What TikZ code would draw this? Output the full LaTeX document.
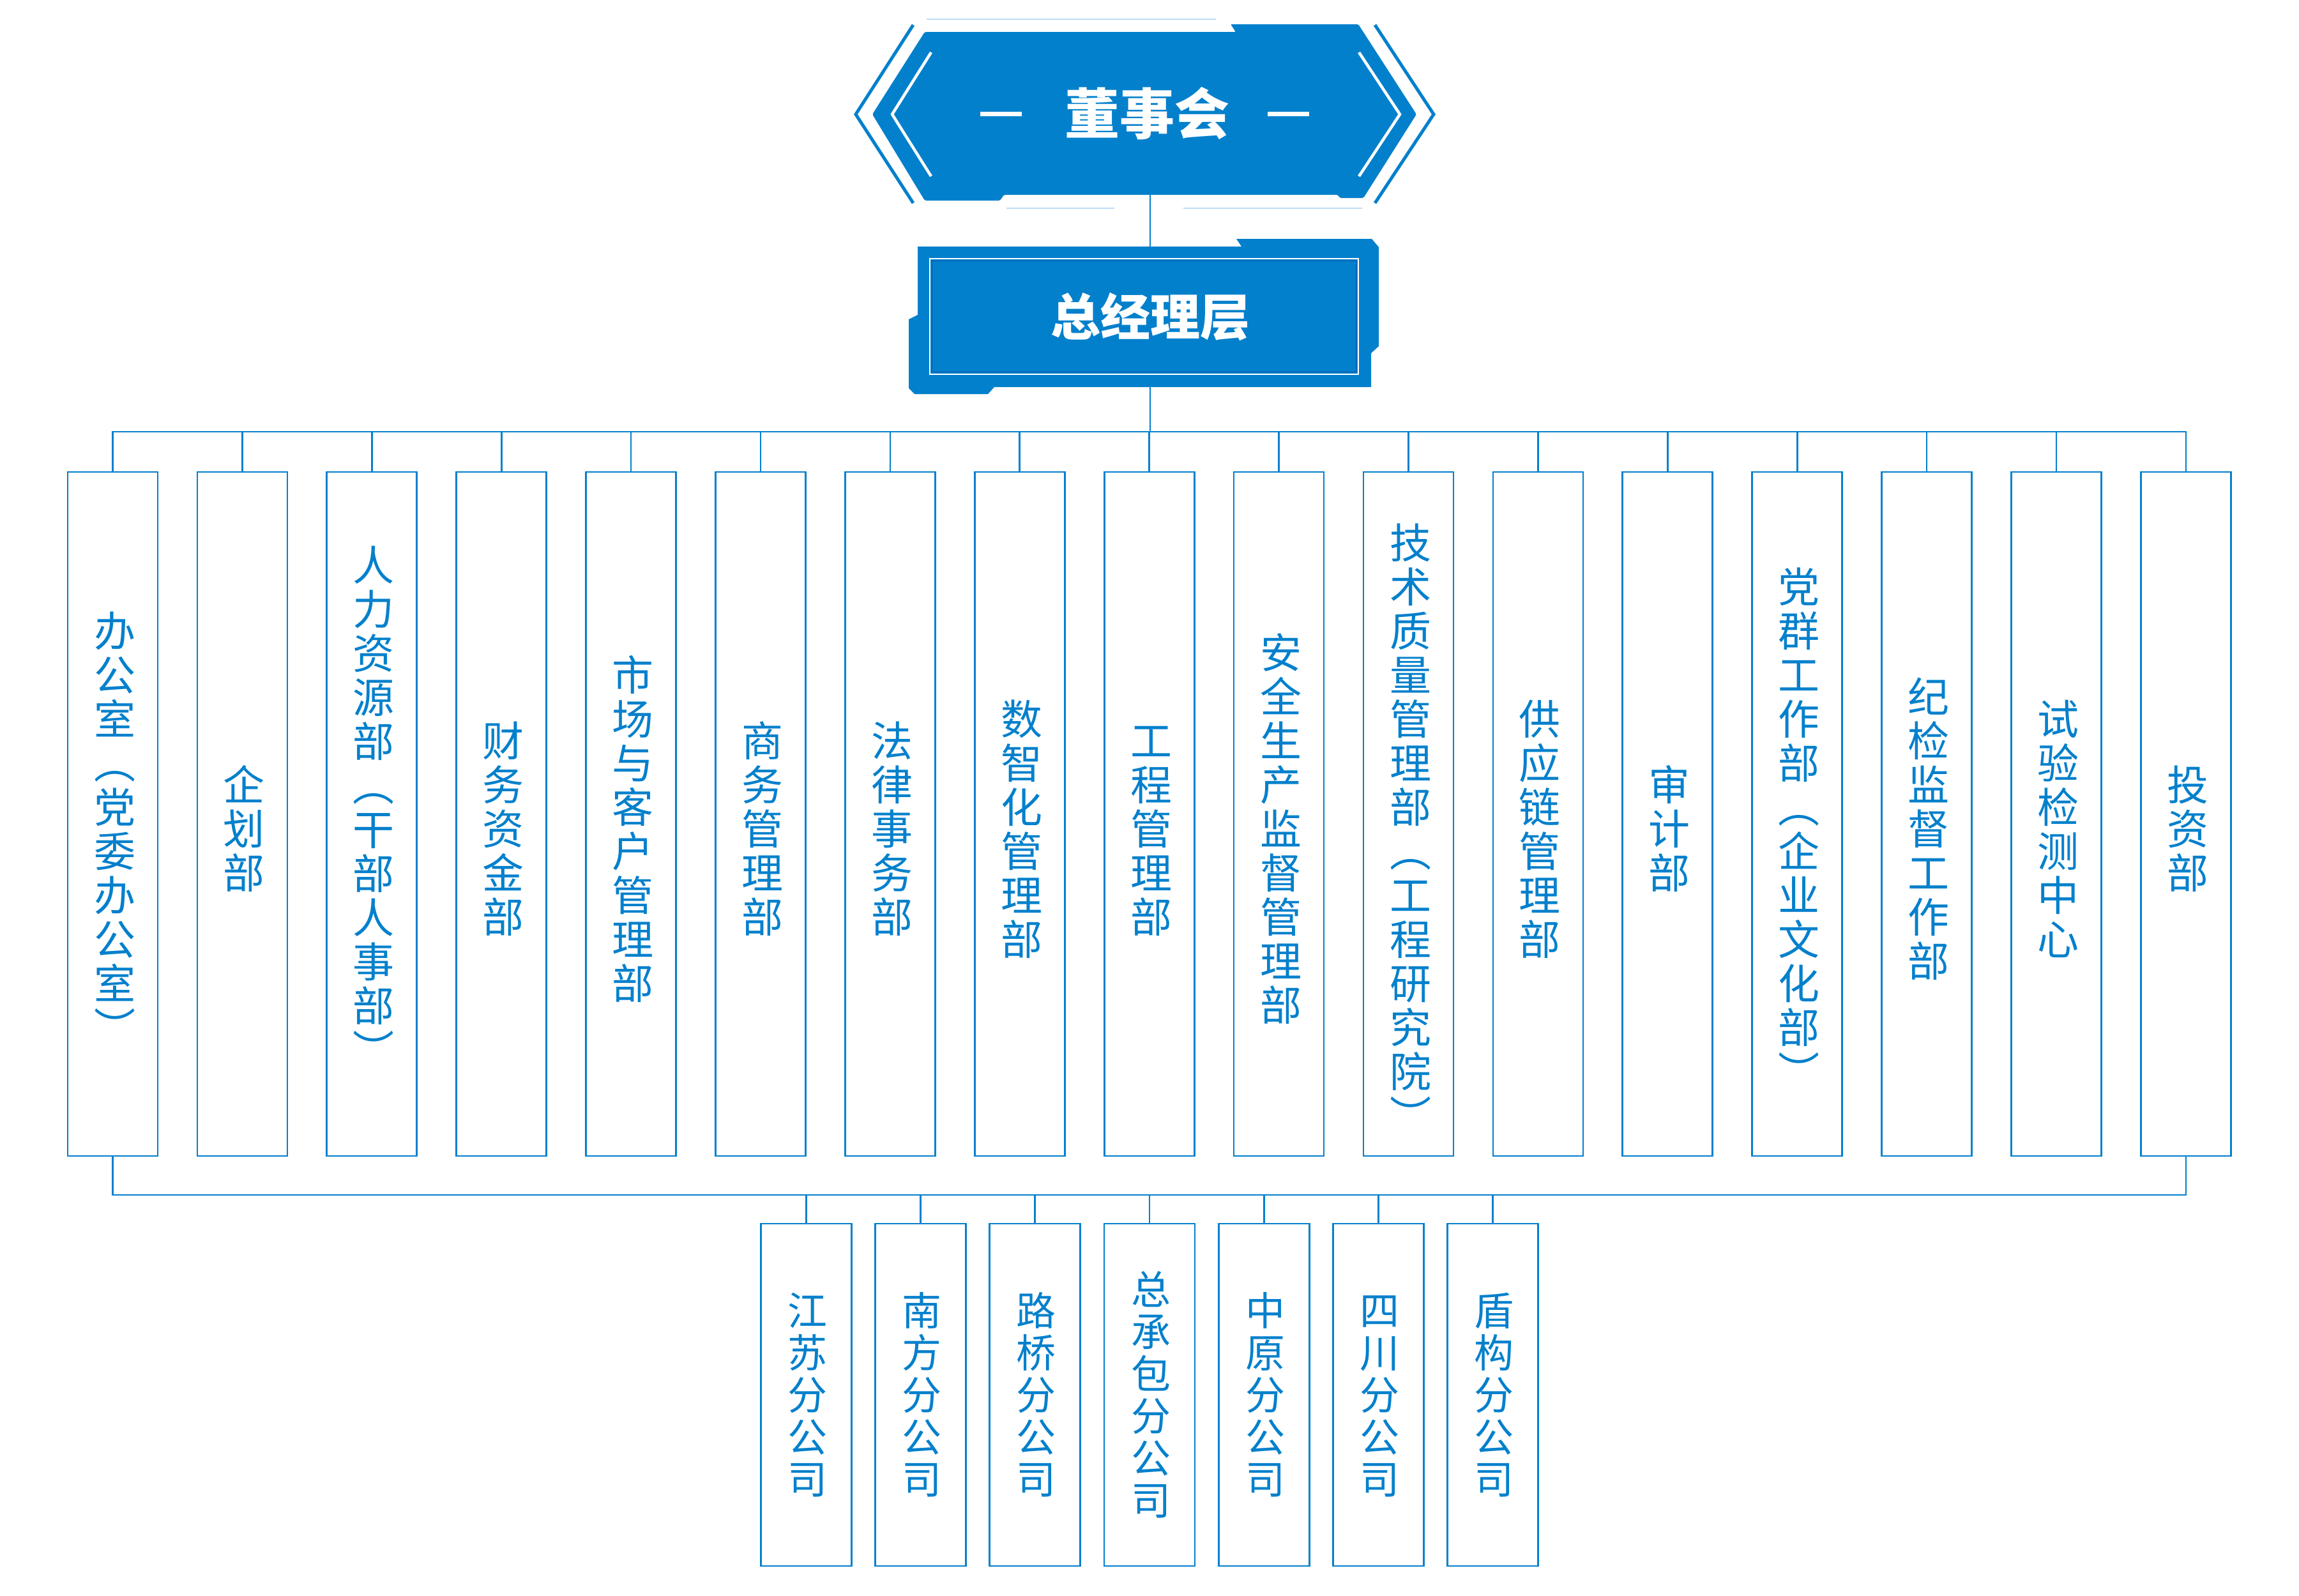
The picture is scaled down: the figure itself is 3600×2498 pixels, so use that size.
\documentclass[tikz,border=0pt]{standalone}
\usepackage{fontspec}
\setmainfont{Noto Sans CJK SC}
\definecolor{mainblue}{RGB}{3,128,204}
\definecolor{lightline}{RGB}{189,220,245}
\definecolor{darkline}{RGB}{0,84,170}
\newcommand\vstack[3]{\vbox{\offinterlineskip\def\vscell{#1}\def\vsdep{#2}\expandafter\vsloop#3\relax}}
\def\vsloop#1{\ifx\relax#1\else\hbox to 80pt{\hss\rule[-\vsdep]{0pt}{\vscell}#1\hss}\expandafter\vsloop\fi}
\tikzset{
  dept/.style={draw=mainblue, line width=2.7pt, minimum width=141pt, minimum height=1071pt, inner sep=0pt},
  sub/.style={draw=mainblue, line width=2.7pt, minimum width=142pt, minimum height=536pt, inner sep=0pt},
  vt/.style={inner sep=0pt, text=mainblue, font=\fontsize{65}{69}\selectfont},
  vts/.style={inner sep=0pt, text=mainblue, font=\fontsize{62}{66}\selectfont},
  conn/.style={draw=mainblue, line width=2.7pt},
  head/.style={inner sep=0pt, text=white, font=\bfseries\fontsize{86}{100}\selectfont},
}
\begin{document}
\begin{tikzpicture}[x=1pt, y=-1pt, line join=miter]
\fill[white] (0,0) rectangle (3600,2498);
\useasboundingbox (0,0) rectangle (3600,2498);
% ---- top shape: board
\fill[mainblue, rounded corners=2pt] (1448,50) -- (1935,50) -- (1927,38) -- (2127,38) -- (2218,179) -- (2135,310) -- (2098,310) -- (2095,305) -- (1572,305) -- (1566,314) -- (1448,314) -- (1366,179) -- cycle;
\draw[mainblue, line width=5pt] (1430,39) -- (1340,179) -- (1430,318);
\draw[mainblue, line width=5pt] (2153,39) -- (2245,179) -- (2153,318);
\draw[white, line width=4.5pt] (1458,82) -- (1397,179) -- (1458,276);
\draw[white, line width=4.5pt] (2128,82) -- (2192,179) -- (2128,276);
\fill[white] (1535,175) rectangle (1600,182);
\fill[white] (1985,175) rectangle (2050,182);
\draw[lightline, line width=2.5pt] (1451,30) -- (1904,30);
\draw[lightline, line width=2.5pt] (1576,326) -- (1745,326);
\draw[lightline, line width=2.5pt] (1853,326) -- (2133,326);
\node[head] (ds) at (1796,178) {董事会};
\coordinate (dsb) at (1801,305);
% ---- general manager
\fill[mainblue] (1437,386) -- (1944,386) -- (1936,374) -- (2148,374) -- (2159,387) -- (2159,542) -- (2147,553) -- (2147,606) -- (1557,606) -- (1547,617) -- (1432,617) -- (1423,608) -- (1423,500) -- (1437,493) -- cycle;
\draw[white, line width=2.7pt] (1456,405) rectangle (2127,586);
\draw[darkline, line width=1.2pt] (1459.5,408.5) rectangle (2123.5,582.5);
\node[head, font=\bfseries\fontsize{78}{90}\selectfont, minimum height=220pt] (gm) at (1801,496) {总经理层};
\draw[conn] (dsb) -- (gm.north);
% ---- departments
\coordinate (busL) at (176.5,676);
\coordinate (lbus) at (176.5,1871);
\foreach \t/\dy [count=\i] in {办公室︵党委办公室︶/0, 企划部/0, 人力资源部︵干部人事部︶/-33.5, 财务资金部/0, 市场与客户管理部/0, 商务管理部/0, 法律事务部/0, 数智化管理部/0, 工程管理部/0, 安全生产监督管理部/0, 技术质量管理部︵工程研究院︶/0, 供应链管理部/0, 审计部/0, 党群工作部︵企业文化部︶/0, 纪检监督工作部/0, 试验检测中心/0, 投资部/0}{
  \node[dept] (d\i) at ({176.5+(\i-1)*202.9},1274.5) {};
  \node[vt] (t\i) at ({179.5+(\i-1)*202.9},{1298+\dy}) {\vstack{69pt}{9.8pt}{\t}};
}
\draw[conn] (d1.north) -- (d1.north |- busL) -- (d17.north |- busL) -- (d17.north);
\foreach \i in {2,...,16}{
  \draw[conn] (d\i.north) -- (d\i.north |- busL);
}
\draw[conn] (gm.south) -- (gm.south |- busL);
\draw[conn] (d1.south) -- (d1.south |- lbus) -- (d17.south |- lbus) -- (d17.south);
% ---- branches
\foreach \t [count=\j] in {江苏分公司, 南方分公司, 路桥分公司, 总承包分公司, 中原分公司, 四川分公司, 盾构分公司}{
  \node[sub] (s\j) at ({1800+(\j-4)*179.2},2184) {};
  \node[vts] (u\j) at ({1802+(\j-4)*179.2},2184) {\vstack{66pt}{9.44pt}{\t}};
  \draw[conn] (s\j.north) -- (s\j.north |- lbus);
}
\end{tikzpicture}
\end{document}
